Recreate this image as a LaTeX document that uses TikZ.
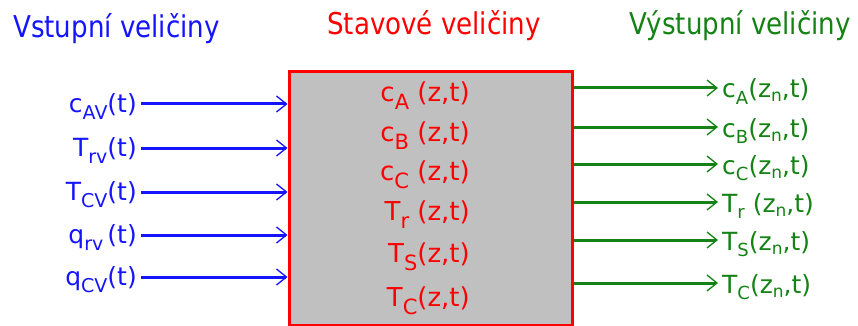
\documentclass[tikz,border=0pt]{standalone}
\usepackage{fontspec}
\setmainfont{DejaVu Sans}
\newfontfamily\titlefont[FakeStretch=0.87]{DejaVu Sans}
\usetikzlibrary{arrows.meta}
\definecolor{inblue}{RGB}{20,20,255}
\definecolor{stred}{RGB}{255,0,0}
\definecolor{outgreen}{RGB}{20,130,20}
\definecolor{boxgray}{RGB}{192,192,192}
\newcommand\isub[1]{\raisebox{-7pt}{\fontsize{19}{19}\selectfont #1}}
\newcommand\csub[1]{\raisebox{-8pt}{\fontsize{21}{21}\selectfont #1}}
\newcommand\osub[1]{\raisebox{-6pt}{\fontsize{18}{18}\selectfont #1}}
\newcommand\nsub{\raisebox{-4pt}{\fontsize{17}{17}\selectfont n}}
\tikzset{
  title/.style={inner sep=0pt, font=\titlefont\fontsize{30}{30}\selectfont},
  inlab/.style={anchor=base east, inner sep=1pt, text=inblue, font=\fontsize{25}{25}\selectfont},
  clab/.style={anchor=base east, inner sep=1pt, text=stred, font=\fontsize{26}{26}\selectfont},
  outlab/.style={anchor=base west, inner sep=1pt, text=outgreen, font=\fontsize{25}{25}\selectfont},
  inarr/.style={draw=inblue, line width=3pt, -{Straight Barb[length=10pt,width=16pt,line width=1.3pt]}},
  outarr/.style={draw=outgreen, line width=3pt, -{Straight Barb[length=10pt,width=16pt,line width=1.3pt]}},
  sysbox/.style={draw=stred, fill=boxgray, line width=3pt, minimum width=283.5pt, minimum height=254pt, inner sep=0pt, anchor=north west}
}
\begin{document}
\begin{tikzpicture}[x=1pt,y=-1pt]
\useasboundingbox[fill=white] (0,0) rectangle (858,326);
% titles
\node[title, anchor=base west, text=inblue] (tin) at (13,38) {Vstupní veličiny};
\node[title, anchor=base west, text=stred] (tst) at (327,35) {Stavové veličiny};
\node[title, anchor=base east, text=outgreen] (tout) at (851,35) {Výstupní veličiny};
% box
\node[sysbox] (box) at (287.5,70) {};
% state labels
\node[clab] (c1) at (471,102) {c\csub{A} (z,t)};
\node[clab] (c2) at (471,141) {c\csub{B} (z,t)};
\node[clab] (c3) at (471,180) {c\csub{C} (z,t)};
\node[clab] (c4) at (471,220) {T\csub{r} (z,t)};
\node[clab] (c5) at (471,262) {T\csub{S}(z,t)};
\node[clab] (c6) at (471,306) {T\csub{C}(z,t)};
% inputs
\node[inlab] (i1) at (138,112) {c\isub{AV}(t)};
\node[inlab] (i2) at (138,156) {T\isub{rv}(t)};
\node[inlab] (i3) at (138,200) {T\isub{CV}(t)};
\node[inlab] (i4) at (138,243) {q\isub{rv}\,(t)};
\node[inlab] (i5) at (138,285) {q\isub{CV}(t)};
\foreach \k in {1,...,5}{
  \coordinate (is\k) at ([xshift=3pt,yshift=8pt]i\k.base east);
  \draw[inarr] (is\k) -- (is\k -| box.west);
}
% outputs
\node[outlab] (o1) at (721,98) {c\osub{A}(z\nsub,t)};
\node[outlab] (o2) at (721,137) {c\osub{B}(z\nsub,t)};
\node[outlab] (o3) at (721,174) {c\osub{C}(z\nsub,t)};
\node[outlab] (o4) at (721,212) {T\osub{r} (z\nsub,t)};
\node[outlab] (o5) at (721,250) {T\osub{S}(z\nsub,t)};
\node[outlab] (o6) at (721,293) {T\osub{C}(z\nsub,t)};
\foreach \k in {1,...,6}{
  \coordinate (oe\k) at ([xshift=-3pt,yshift=10pt]o\k.base west);
  \draw[outarr] (oe\k -| box.east) -- (oe\k);
}
\end{tikzpicture}
\end{document}
